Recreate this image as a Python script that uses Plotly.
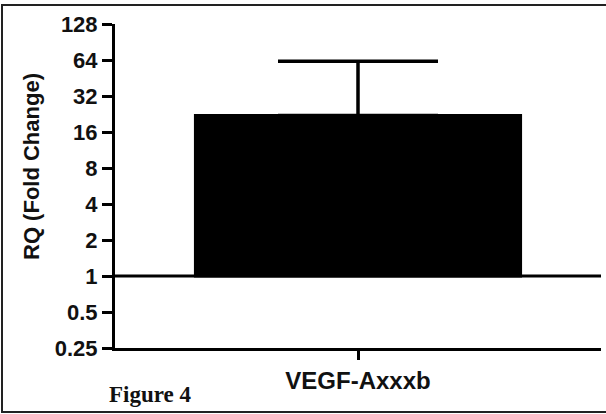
import plotly.graph_objects as go
import math

categories = ["VEGF-Axxxb"]
rq_values = [22.0]
rq_upper = [62.5]
baseline = 1
tick_vals = [0.25, 0.5, 1, 2, 4, 8, 16, 32, 64, 128]
tick_text = ["0.25", "0.5", "1", "2", "4", "8", "16", "32", "64", "128"]

W, H = 606, 414
ML, MR, MT, MB = 115, 5, 24, 66
PW, PH = W - ML - MR, H - MT - MB
SANS = "Liberation Sans, Arial"

fig = go.Figure()
fig.add_trace(go.Bar(
    x=categories,
    y=[v - baseline for v in rq_values],
    base=[baseline] * len(rq_values),
    marker=dict(color="black", line=dict(width=3, color="black")),
    width=0.669,
    showlegend=False,
))
fig.add_trace(go.Scatter(
    x=categories,
    y=rq_values,
    mode="markers",
    marker=dict(size=1, opacity=0),
    error_y=dict(type="data", symmetric=False,
                 array=[u - v for u, v in zip(rq_upper, rq_values)],
                 arrayminus=[0] * len(rq_values),
                 color="black", thickness=3.5, width=80),
    showlegend=False,
))

def px_to_paper_x(px):
    return (px - ML) / PW

def px_to_paper_y(py):
    return (H - MB - py) / PH

fig.update_layout(
    width=W, height=H,
    margin=dict(l=ML, r=MR, t=MT, b=MB, pad=0),
    paper_bgcolor="white", plot_bgcolor="white",
    font=dict(family=SANS, color="black"),
    xaxis=dict(
        range=[-0.5, 0.5], showline=True, linewidth=3, linecolor="black",
        ticks="outside", ticklen=9, tickwidth=3, tickcolor="black",
        showgrid=False, zeroline=False,
        tickfont=dict(size=24, family=SANS, weight="bold", color="#111"),
    ),
    yaxis=dict(
        type="log", range=[math.log10(0.25), math.log10(128)],
        tickvals=tick_vals, ticktext=tick_text,
        showline=True, linewidth=3, linecolor="black",
        ticks="outside", ticklen=10, tickwidth=3, tickcolor="black",
        showgrid=False, zeroline=False,
        tickfont=dict(size=22, family=SANS, weight="bold", color="#111"),
    ),
    shapes=[
        dict(type="line", xref="paper", yref="y", x0=0, x1=1, y0=baseline, y1=baseline,
             line=dict(color="black", width=3)),
        dict(type="rect", xref="paper", yref="paper",
             x0=px_to_paper_x(2), x1=px_to_paper_x(W + 10),
             y0=px_to_paper_y(412), y1=px_to_paper_y(5),
             line=dict(color="#222", width=2), fillcolor="rgba(0,0,0,0)", layer="below"),
    ],
    annotations=[
        dict(text="RQ (Fold Change)", xref="paper", yref="paper",
             x=px_to_paper_x(31), y=px_to_paper_y(167), textangle=-90,
             showarrow=False, font=dict(size=22, family=SANS, weight="bold", color="#111"),
             xanchor="center", yanchor="middle"),
        dict(text="Figure 4", xref="paper", yref="paper",
             x=px_to_paper_x(107), y=px_to_paper_y(394),
             showarrow=False, font=dict(size=23, family="Liberation Serif, Times New Roman",
                                        weight="bold", color="#111"),
             xanchor="left", yanchor="middle"),
    ],
)

fig.write_html("out.html", config={"displayModeBar": False},
               post_script="document.body.style.margin='0';document.body.style.overflow='hidden';")
